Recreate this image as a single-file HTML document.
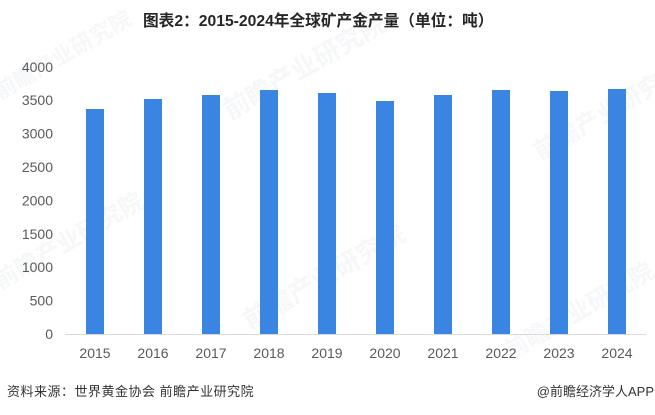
<!DOCTYPE html>
<html>
<head>
<meta charset="utf-8">
<style>
  html, body { margin:0; padding:0; background:#fff; }
  body { width:655px; height:415px; overflow:hidden; position:relative; font-family:"Liberation Sans","Noto Sans CJK SC",sans-serif; }
  svg { position:absolute; left:0; top:0; }
</style>
</head>
<body>
<svg width="655" height="415" viewBox="0 0 655 415" xmlns="http://www.w3.org/2000/svg">
  <rect width="655" height="415" fill="#ffffff"/>
  <!-- watermarks -->
  <g fill="#e8ebf0" opacity="0.4" font-family="'Liberation Sans','Noto Sans CJK SC',sans-serif" font-weight="bold">
    <text x="0" y="100" font-size="22" transform="rotate(-30 0 100)">前瞻产业研究院</text>
    <text x="230" y="120" font-size="26" transform="rotate(-30 230 120)">前瞻产业研究院</text>
    <text x="540" y="160" font-size="24" transform="rotate(-30 540 160)">前瞻产业研究</text>
    <text x="0" y="290" font-size="24" transform="rotate(-30 0 290)">前瞻产业研究院</text>
    <text x="250" y="330" font-size="26" transform="rotate(-30 250 330)">前瞻产业研究院</text>
    <text x="510" y="360" font-size="24" transform="rotate(-30 510 360)">前瞻产业研究院</text>
  </g>

  <!-- title -->
  <text x="143" y="26" text-anchor="start" font-size="15.7" font-weight="bold" fill="#262626" font-family="'Liberation Sans','Noto Sans CJK SC',sans-serif">图表2：2015-2024年全球矿产金产量（单位：吨）</text>

  <!-- y axis labels -->
  <g font-size="14" fill="#5a5a5a" text-anchor="end" font-family="'Liberation Sans',sans-serif">
    <text x="53" y="339">0</text>
    <text x="53" y="305.6">500</text>
    <text x="53" y="272.2">1000</text>
    <text x="53" y="238.8">1500</text>
    <text x="53" y="205.4">2000</text>
    <text x="53" y="172">2500</text>
    <text x="53" y="138.6">3000</text>
    <text x="53" y="105.2">3500</text>
    <text x="53" y="71.8">4000</text>
  </g>

  <!-- axis line -->
  <line x1="65" y1="334.5" x2="646" y2="334.5" stroke="#d9d9d9" stroke-width="1"/>

  <!-- bars -->
  <g fill="#3a84e2">
    <rect x="86"  y="109" width="18" height="225"/>
    <rect x="144" y="99"  width="18" height="235"/>
    <rect x="202" y="95"  width="18" height="239"/>
    <rect x="260" y="90"  width="18" height="244"/>
    <rect x="318" y="93"  width="18" height="241"/>
    <rect x="376" y="101" width="18" height="233"/>
    <rect x="434" y="95"  width="18" height="239"/>
    <rect x="492" y="90"  width="18" height="244"/>
    <rect x="550" y="91"  width="18" height="243"/>
    <rect x="608" y="89"  width="18" height="245"/>
  </g>

  <!-- x labels -->
  <g font-size="14" fill="#5a5a5a" text-anchor="middle" font-family="'Liberation Sans',sans-serif">
    <text x="95"  y="358">2015</text>
    <text x="153" y="358">2016</text>
    <text x="211" y="358">2017</text>
    <text x="269" y="358">2018</text>
    <text x="327" y="358">2019</text>
    <text x="385" y="358">2020</text>
    <text x="443" y="358">2021</text>
    <text x="501" y="358">2022</text>
    <text x="559" y="358">2023</text>
    <text x="617" y="358">2024</text>
  </g>

  <!-- footer -->
  <text x="7" y="396" font-size="13" letter-spacing="0.5" fill="#333333" font-family="'Liberation Sans','Noto Sans CJK SC',sans-serif">资料来源：世界黄金协会 前瞻产业研究院</text>
  <text x="654" y="396" font-size="13" fill="#333333" text-anchor="end" font-family="'Liberation Sans','Noto Sans CJK SC',sans-serif">@前瞻经济学人APP</text>
</svg>
</body>
</html>
